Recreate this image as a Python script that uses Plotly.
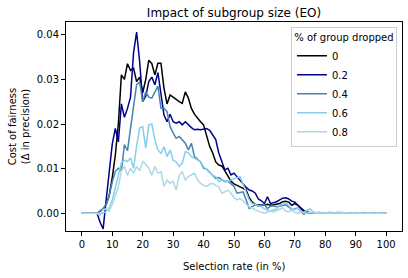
import plotly.graph_objects as go

selection_rate = list(range(0, 101))

drop_0 = [0, 0, 0, 0, 0, 0, 0.0005, 0.001, 0.002, 0.004,
          0.008, 0.013, 0.020, 0.031, 0.030, 0.0335, 0.032, 0.0325, 0.0295, 0.0305,
          0.027, 0.030, 0.0343, 0.0335, 0.031, 0.0336, 0.0336, 0.028, 0.0245, 0.0265,
          0.026, 0.0254, 0.025, 0.0246, 0.0272, 0.0258, 0.0235, 0.0222, 0.0212, 0.0205,
          0.0198, 0.0175, 0.0150, 0.0135, 0.0115, 0.0108, 0.0106, 0.0095, 0.0082, 0.0072,
          0.0066, 0.0063, 0.006, 0.0056, 0.0052, 0.0035, 0.0025, 0.002, 0.0019, 0.0019,
          0.0018, 0.002, 0.0018, 0.0019, 0.002, 0.0022, 0.0026, 0.0027, 0.0025, 0.0018,
          0.0022, 0.0018, 0.0012, 0.0006, 0.0003, 0.0001, 0.0, 0.0001, 0.0, 0.0001,
          0.0, 0.0002, 0.0001, 0.0, 0.0001, 0.0002, 0.0001, 0.0, 0.0001, 0.0,
          0.0001, 0.0, 0.0, 0.0001, 0.0, 0.0, 0.0001, 0.0, 0.0, 0.0, 0.0]

drop_2 = [0, 0, 0, 0, 0, 0, -0.002, -0.0035, 0.003, 0.009,
          0.0155, 0.019, 0.016, 0.0245, 0.0215, 0.0235, 0.026, 0.036, 0.0406, 0.034,
          0.025, 0.0262, 0.0295, 0.0305, 0.0288, 0.0315, 0.027, 0.022, 0.0205, 0.0222,
          0.0205, 0.0202, 0.0205, 0.0198, 0.0205, 0.0198, 0.0192, 0.0187, 0.0188, 0.0187,
          0.0189, 0.019, 0.0186, 0.0175, 0.0165, 0.0135, 0.0115, 0.0097, 0.0101, 0.0086,
          0.009, 0.0082, 0.0075, 0.0065, 0.0058, 0.0052, 0.005, 0.0045, 0.0032, 0.0028,
          0.0022, 0.0037, 0.0022, 0.0024, 0.0026, 0.003, 0.0034, 0.0035, 0.0032, 0.0027,
          0.0025, 0.0018, 0.001, 0.0003, 0.0001, 0.0, 0.0001, 0.0, 0.0002, 0.0001,
          0.0, 0.0001, 0.0, 0.0001, 0.0002, 0.0, 0.0001, 0.0, 0.0, 0.0001,
          0.0, 0.0, 0.0001, 0.0, 0.0, 0.0001, 0.0, 0.0, 0.0, 0.0, 0.0]

drop_4 = [0, 0, 0, 0, 0, 0, 0.0005, 0.001, 0.002, 0.004,
          0.007, 0.0094, 0.0101, 0.0095, 0.0154, 0.014, 0.019, 0.0243, 0.0288, 0.0294,
          0.025, 0.0272, 0.026, 0.0258, 0.0273, 0.0285, 0.0235, 0.0235, 0.0228, 0.0194,
          0.018, 0.0168, 0.0172, 0.0165, 0.0157, 0.0142, 0.0157, 0.0127, 0.0122, 0.0115,
          0.0101, 0.0099, 0.0092, 0.0086, 0.0078, 0.008, 0.0075, 0.0071, 0.0072, 0.0066,
          0.006, 0.0045, 0.0047, 0.0048, 0.003, 0.0011, 0.0015, 0.0019, 0.0016, 0.0018,
          0.0019, 0.0011, 0.0016, 0.0017, 0.0015, 0.0016, 0.0017, 0.0019, 0.0014, 0.0008,
          0.001, 0.0012, 0.0003, -0.0002, 0.0004, 0.0, 0.0001, 0.0, 0.0001, 0.0,
          0.0001, 0.0, 0.0002, 0.0001, 0.0, 0.0001, 0.0, 0.0001, 0.0, 0.0,
          0.0001, 0.0, 0.0, 0.0, 0.0001, 0.0, 0.0, 0.0, 0.0, 0.0, 0.0]

drop_6 = [0, 0, 0, 0, 0, 0, 0, 0, 0.0005, 0.0012,
          0.003, 0.0057, 0.0085, 0.0113, 0.0119, 0.0116, 0.0124, 0.0101, 0.015, 0.0191,
          0.0194, 0.0146, 0.0198, 0.020, 0.0164, 0.0142, 0.0134, 0.0149, 0.0127, 0.0142,
          0.0119, 0.0115, 0.0105, 0.0112, 0.0138, 0.0136, 0.0127, 0.0123, 0.012, 0.0116,
          0.0104, 0.0098, 0.009, 0.0085, 0.0082, 0.0071, 0.0075, 0.0072, 0.0072, 0.0075,
          0.0078, 0.008, 0.0082, 0.0065, 0.005, 0.003, 0.0022, 0.002, 0.0018, 0.0015,
          0.001, 0.0008, 0.0005, 0.0008, 0.001, 0.0018, 0.002, 0.0024, 0.0018, 0.001,
          0.0008, 0.0012, 0.0005, 0.0002, 0.0007, 0.001, 0.0003, 0.0001, 0.0, 0.0002,
          0.0001, 0.0, 0.0001, 0.0002, 0.0001, 0.0, 0.0002, 0.0001, 0.0, 0.0001,
          0.0, 0.0001, 0.0, 0.0, 0.0001, 0.0, 0.0, 0.0001, 0.0, 0.0, 0.0]

drop_8 = [0, 0, 0, 0, 0, 0, -0.0005, 0.0008, 0.001, 0.0005,
          0.002, 0.004, 0.006, 0.0095, 0.0105, 0.0085, 0.0101, 0.009, 0.0105, 0.0095,
          0.0116, 0.011, 0.0101, 0.0085, 0.0105, 0.009, 0.0093, 0.006, 0.0075, 0.0067,
          0.0072, 0.0052, 0.0085, 0.0093, 0.0075, 0.0082, 0.0087, 0.009, 0.0075, 0.0067,
          0.0063, 0.006, 0.0065, 0.0067, 0.0062, 0.006, 0.0045, 0.0048, 0.0052, 0.0045,
          0.0035, 0.003, 0.0033, 0.0028, 0.002, 0.0015, 0.0011, 0.0008, 0.0005, 0.0002,
          0.0, 0.0003, 0.0005, 0.0003, 0.0006, 0.0008, 0.0012, 0.0005, 0.0003, 0.0007,
          0.0002, 0.0, 0.0003, 0.0001, 0.0, 0.0002, 0.0001, 0.0, 0.0001, 0.0002,
          0.0, 0.0001, 0.0, 0.0001, 0.0, 0.0002, 0.0, 0.0001, 0.0, 0.0,
          0.0001, 0.0, 0.0001, 0.0, 0.0, 0.0, 0.0001, 0.0, 0.0, 0.0, 0.0]

series_names = ["0", "0.2", "0.4", "0.6", "0.8"]
series_values = [drop_0, drop_2, drop_4, drop_6, drop_8]
series_colors = ["#000000", "#00008B", "#4682B4", "#87CEEB", "#ADD8E6"]

x_ticks = list(range(0, 101, 10))
y_ticks = [0.0, 0.01, 0.02, 0.03, 0.04]
y_tick_labels = ["0.00", "0.01", "0.02", "0.03", "0.04"]

fig = go.Figure()
for name, vals, col in zip(series_names, series_values, series_colors):
    fig.add_trace(go.Scatter(x=selection_rate, y=vals, mode="lines", name=name,
                             line=dict(color=col, width=1.5)))

font_family = "DejaVu Sans"
fig.update_layout(
    width=408, height=278,
    margin=dict(l=66, r=6, t=22, b=47, autoexpand=False),
    paper_bgcolor="white", plot_bgcolor="white",
    font=dict(family=font_family, size=10, color="black"),
    title=dict(text="Impact of subgroup size (EO)", x=0.5, xref="paper",
               xanchor="center", y=1, yref="paper", yanchor="bottom", pad=dict(b=5),
               font=dict(size=12, family=font_family, color="black")),
    showlegend=True,
    legend=dict(
        title=dict(text="% of group dropped", side="top center",
                   font=dict(size=10, family=font_family)),
        x=0.985, xanchor="right", y=0.975, yanchor="top",
        bgcolor="rgba(255,255,255,0.85)", bordercolor="#cccccc", borderwidth=1,
        font=dict(size=10, family=font_family), tracegroupgap=0,
        itemwidth=30,
    ),
    annotations=[
        dict(text="Cost of fairness<br>(Δ in precision)", xref="paper", yref="paper",
             x=-0.1405, y=0.5, xanchor="center", yanchor="middle", textangle=-90,
             showarrow=False, font=dict(size=10, family=font_family, color="black")),
        dict(text="Selection rate (in %)", xref="paper", yref="paper",
             x=0.5, y=-0.1675, xanchor="center", yanchor="middle",
             showarrow=False, font=dict(size=10, family=font_family, color="black")),
    ],
)
fig.update_xaxes(range=[-5.2, 105.2], tickvals=x_ticks, ticks="outside", ticklen=4,
                 tickcolor="black", showline=True, linecolor="black", linewidth=1,
                 mirror=True, showgrid=False, zeroline=False, automargin=False)
fig.update_yaxes(range=[-0.00396, 0.04284], tickvals=y_ticks, ticktext=y_tick_labels,
                 ticks="outside", ticklen=4, tickcolor="black", showline=True,
                 linecolor="black", linewidth=1, mirror=True, showgrid=False,
                 zeroline=False, automargin=False)

fig.write_html("out.html", config={"displayModeBar": False},
               post_script="document.body.style.margin='0';")
